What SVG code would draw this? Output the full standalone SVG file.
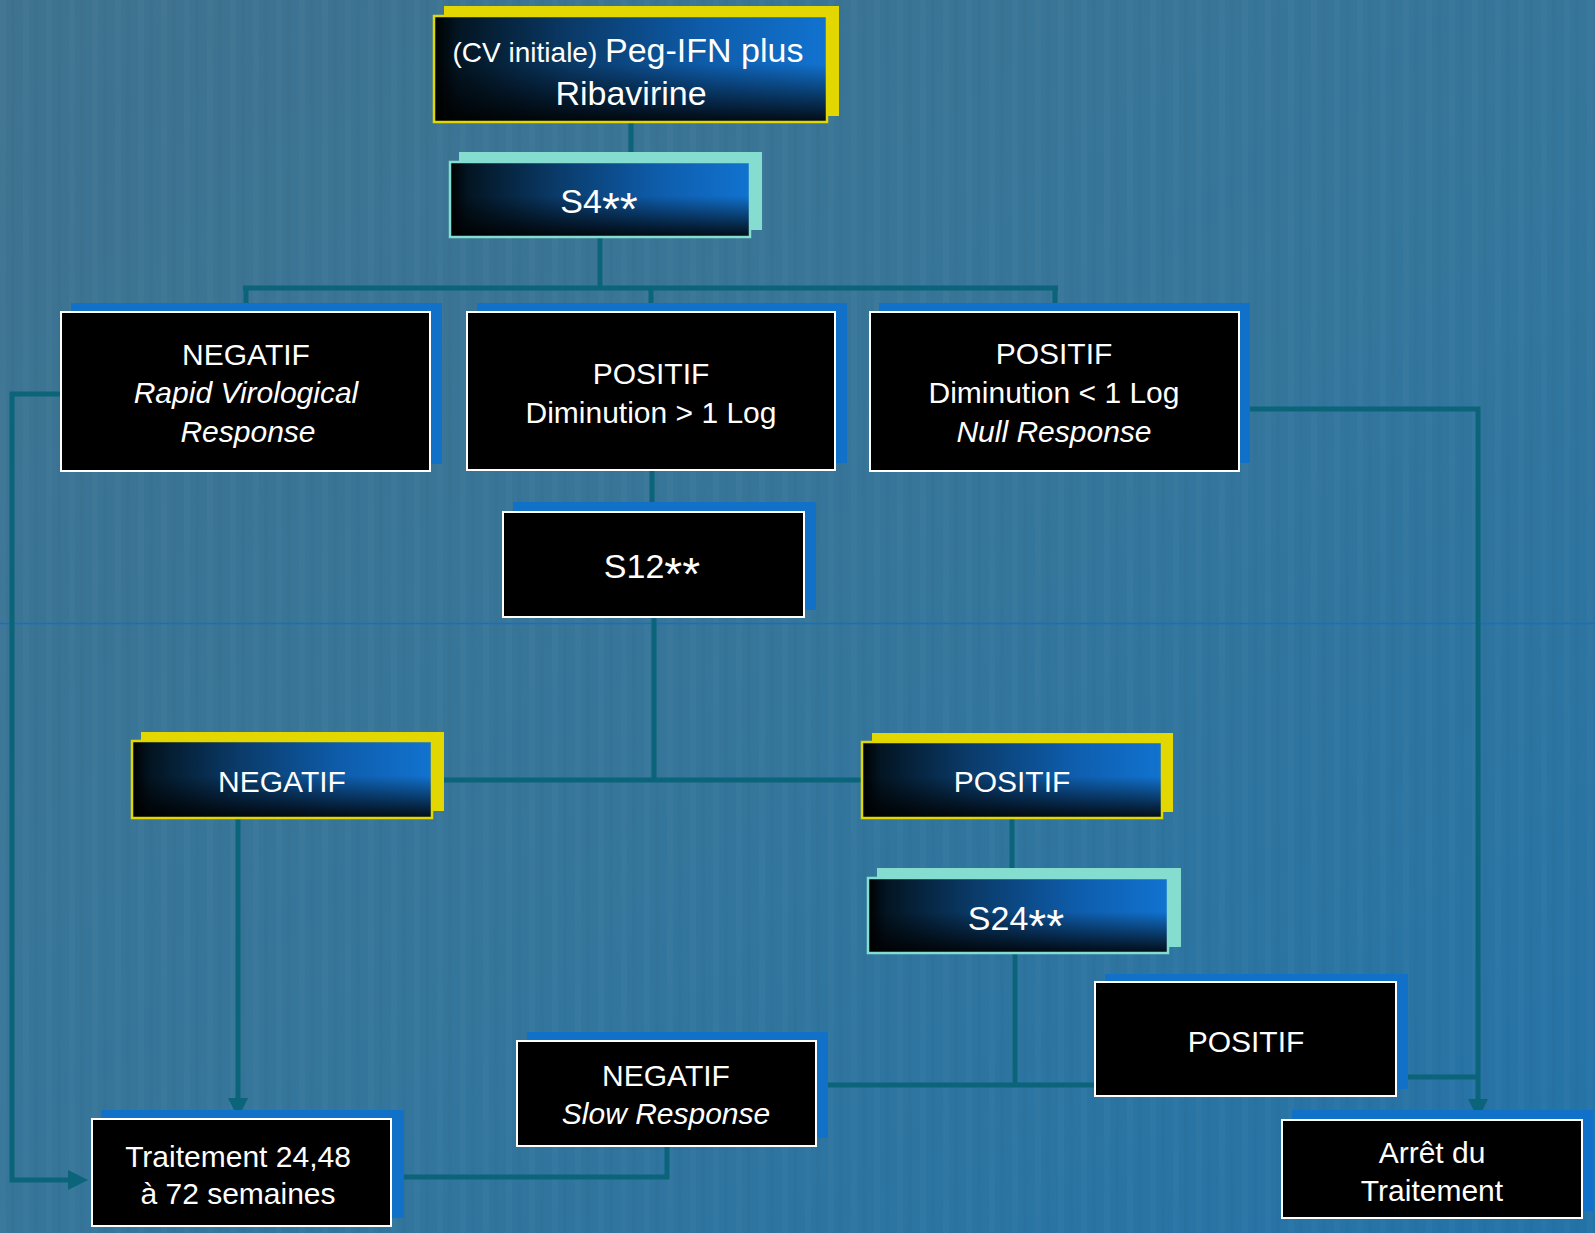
<svg xmlns="http://www.w3.org/2000/svg" width="1595" height="1233" viewBox="0 0 1595 1233">
<defs>
<linearGradient id="bg" x1="0" y1="0" x2="1" y2="1">
<stop offset="0" stop-color="#3F7390"/>
<stop offset="0.5" stop-color="#36769A"/>
<stop offset="1" stop-color="#2473A8"/>
</linearGradient>
<pattern id="stripes" width="23" height="40" patternUnits="userSpaceOnUse">
<rect x="0" y="0" width="6" height="40" fill="#ffffff" opacity="0.018"/>
<rect x="11" y="0" width="4" height="40" fill="#000000" opacity="0.018"/>
</pattern>
<linearGradient id="gh" x1="0" y1="0" x2="1" y2="0">
<stop offset="0" stop-color="#000000"/>
<stop offset="0.06" stop-color="#031522"/>
<stop offset="0.35" stop-color="#0A3A68"/>
<stop offset="0.7" stop-color="#0E5DAC"/>
<stop offset="1" stop-color="#1173D0"/>
</linearGradient>
<linearGradient id="gv" x1="0" y1="0" x2="0" y2="1">
<stop offset="0" stop-color="#000" stop-opacity="0"/>
<stop offset="0.45" stop-color="#000" stop-opacity="0"/>
<stop offset="1" stop-color="#000" stop-opacity="0.9"/>
</linearGradient>
<marker id="arr" viewBox="0 0 20 20" refX="8" refY="10" markerWidth="20" markerHeight="20" markerUnits="userSpaceOnUse" orient="auto">
<path d="M0,0 L20,10 L0,20 z" fill="#0B6479"/>
</marker>
<style>
.t{font-family:"Liberation Sans",Arial,sans-serif;fill:#ffffff;text-anchor:middle;font-size:30px}
.big{font-size:34px}
.ast{font-size:46px}
.i{font-style:italic}
.blk{fill:#000;stroke:#fff;stroke-width:2}
.sh-b{fill:#1170C8}
.sh-y{fill:#E2D700}
.sh-t{fill:#85DDD0}
.gf{fill:url(#gh)}
.gv{fill:url(#gv)}
.by{fill:none;stroke:#E2D700;stroke-width:2.5}
.bt{fill:none;stroke:#85DDD0;stroke-width:2.5}
.c{fill:none;stroke:#0B6479;stroke-width:5}
</style>
</defs>
<rect width="1595" height="1233" fill="url(#bg)"/>
<rect width="1595" height="1233" fill="url(#stripes)"/>
<line x1="0" y1="623.5" x2="1595" y2="623.5" stroke="#1570C4" stroke-width="1.5"/>

<g id="connectors">
<path class="c" d="M631,122 V152"/>
<path class="c" d="M600,237 V288"/>
<path class="c" d="M243,288 H1058"/>
<path class="c" d="M246,288 V303 M651,288 V303 M1055,288 V303"/>
<path class="c" d="M652,470 V502"/>
<path class="c" d="M654,617 V780"/>
<path class="c" d="M444,780 H862"/>
<path class="c" d="M238,818 V1106" marker-end="url(#arr)"/>
<path class="c" d="M61,394 H12 V1180 H76" marker-end="url(#arr)"/>
<path class="c" d="M1012,818 V868"/>
<path class="c" d="M1015,953 V1085"/>
<path class="c" d="M828,1085 H1095"/>
<path class="c" d="M667,1146 V1177 H404"/>
<path class="c" d="M1250,409 H1478 V1107" marker-end="url(#arr)"/>
<path class="c" d="M1408,1077 H1478"/>
</g>

<g id="n-start">
<rect class="sh-y" x="444" y="6" width="395" height="110"/>
<rect class="gf" x="434" y="16" width="393" height="106"/>
<rect class="gv" x="434" y="16" width="393" height="106"/>
<rect class="by" x="434" y="16" width="393" height="106"/>
<text class="t" x="628" y="62"><tspan style="font-size:28px">(CV initiale) </tspan><tspan style="font-size:34px">Peg-IFN plus</tspan></text>
<text class="t big" x="631" y="105">Ribavirine</text>
</g>

<g id="n-s4">
<rect class="sh-t" x="459" y="152" width="303" height="78"/>
<rect class="gf" x="450" y="162" width="300" height="75"/>
<rect class="gv" x="450" y="162" width="300" height="75"/>
<rect class="bt" x="450" y="162" width="300" height="75"/>
<text class="t big" x="599" y="213">S4<tspan class="ast" dy="12">**</tspan></text>
</g>

<g id="n-rvr">
<rect class="sh-b" x="71" y="303" width="371" height="161"/>
<rect class="blk" x="61" y="312" width="369" height="159"/>
<text class="t" x="246" y="365">NEGATIF</text>
<text class="t i" x="246" y="403">Rapid Virological</text>
<text class="t i" x="248" y="442">Response</text>
</g>

<g id="n-dim-gt">
<rect class="sh-b" x="477" y="303" width="370" height="160"/>
<rect class="blk" x="467" y="312" width="368" height="158"/>
<text class="t" x="651" y="384">POSITIF</text>
<text class="t" x="651" y="423">Diminution &gt; 1 Log</text>
</g>

<g id="n-null">
<rect class="sh-b" x="879" y="303" width="371" height="160"/>
<rect class="blk" x="870" y="312" width="369" height="159"/>
<text class="t" x="1054" y="364">POSITIF</text>
<text class="t" x="1054" y="403">Diminution &lt; 1 Log</text>
<text class="t i" x="1054" y="442">Null Response</text>
</g>

<g id="n-s12">
<rect class="sh-b" x="513" y="502" width="303" height="108"/>
<rect class="blk" x="503" y="512" width="301" height="105"/>
<text class="t big" x="652" y="578">S12<tspan class="ast" dy="12">**</tspan></text>
</g>

<g id="n-neg12">
<rect class="sh-y" x="141" y="732" width="303" height="79"/>
<rect class="gf" x="132" y="741" width="300" height="77"/>
<rect class="gv" x="132" y="741" width="300" height="77"/>
<rect class="by" x="132" y="741" width="300" height="77"/>
<text class="t" x="282" y="792">NEGATIF</text>
</g>

<g id="n-pos12">
<rect class="sh-y" x="872" y="733" width="301" height="79"/>
<rect class="gf" x="862" y="742" width="300" height="76"/>
<rect class="gv" x="862" y="742" width="300" height="76"/>
<rect class="by" x="862" y="742" width="300" height="76"/>
<text class="t" x="1012" y="792">POSITIF</text>
</g>

<g id="n-s24">
<rect class="sh-t" x="877" y="868" width="304" height="79"/>
<rect class="gf" x="868" y="878" width="300" height="75"/>
<rect class="gv" x="868" y="878" width="300" height="75"/>
<rect class="bt" x="868" y="878" width="300" height="75"/>
<text class="t big" x="1016" y="930">S24<tspan class="ast" dy="12">**</tspan></text>
</g>

<g id="n-slow">
<rect class="sh-b" x="527" y="1032" width="301" height="106"/>
<rect class="blk" x="517" y="1041" width="299" height="105"/>
<text class="t" x="666" y="1086">NEGATIF</text>
<text class="t i" x="666" y="1124">Slow Response</text>
</g>

<g id="n-pos24">
<rect class="sh-b" x="1105" y="974" width="303" height="115"/>
<rect class="blk" x="1095" y="982" width="301" height="114"/>
<text class="t" x="1246" y="1052">POSITIF</text>
</g>

<g id="n-trait">
<rect class="sh-b" x="101" y="1110" width="303" height="108"/>
<rect class="blk" x="92" y="1119" width="299" height="107"/>
<text class="t" x="238" y="1167">Traitement 24,48</text>
<text class="t" x="238" y="1204">à 72 semaines</text>
</g>

<g id="n-arret">
<rect class="sh-b" x="1292" y="1110" width="301" height="101"/>
<rect class="blk" x="1282" y="1120" width="300" height="98"/>
<text class="t" x="1432" y="1163">Arrêt du</text>
<text class="t" x="1432" y="1201">Traitement</text>
</g>
</svg>
